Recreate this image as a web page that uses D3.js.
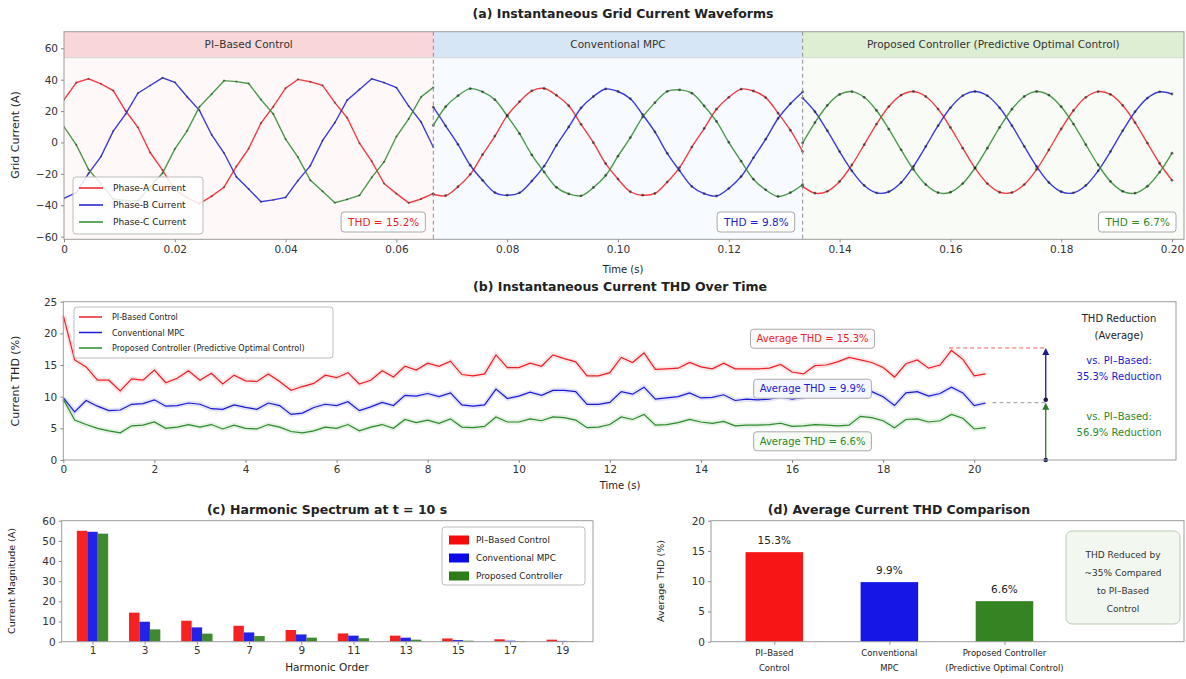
<!DOCTYPE html>
<html>
<head>
<meta charset="utf-8">
<script src="https://cdn.jsdelivr.net/npm/d3@7"></script>
<style>
  body { margin: 0; background: #fff; }
  svg { font-family: "DejaVu Sans", "Liberation Sans", Arial, sans-serif; }
</style>
</head>
<body>
<svg id="fig" width="1186" height="679"></svg>
<script>
// ---------------- DATA ----------------
// (a) waveforms: 31 samples per section, one sample every 0.2/90 s, section k starts at sample 30*k
const phaseNames = ["Phase-A Current", "Phase-B Current", "Phase-C Current"];
const sectionNames = ["PI\u2013Based Control", "Conventional MPC", "Proposed Controller (Predictive Optimal Control)"];
const sectionThd = ["THD = 15.2%", "THD = 9.8%", "THD = 6.7%"];
const waveTicks = [0, 0.02, 0.04, 0.06, 0.08, 0.10, 0.12, 0.14, 0.16, 0.18, 0.20];
const currentTicks = [-60, -40, -20, 0, 20, 40, 60];
const waveStep = 0.2 / 90;

const piA = [27.2, 38.1, 40.6, 37.4, 33.1, 20.2, 9.7, -6.4, -17.6, -30.3, -35.1, -39.0, -34.2, -28.5, -15.3, -3.9, 12.3, 22.8, 34.6, 40.2, 38.7, 36.4, 25.4, 15.8, -0.5, -12.1, -26.2, -32.6, -38.5, -36.0, -32.4];
const piB = [-35.6, -31.9, -19.7, -9.0, 7.2, 18.1, 31.4, 36.3, 41.2, 38.4, 29.1, 20.5, 4.8, -6.7, -21.9, -29.7, -37.8, -36.6, -35.0, -24.3, -14.9, 1.2, 12.6, 27.0, 33.8, 40.6, 38.1, 35.0, 23.2, 13.1, -3.0];
const piC = [10.0, -1.5, -17.3, -26.2, -36.1, -37.0, -37.1, -28.1, -19.6, -4.2, 7.4, 22.7, 30.9, 39.4, 38.8, 37.6, 27.3, 18.2, 2.2, -9.3, -24.0, -31.1, -38.4, -36.3, -33.7, -22.2, -12.4, 3.8, 15.1, 29.0, 35.1];

const mpcA = [-33.0, -33.9, -28.2, -20.3, -7.8, 4.1, 17.1, 26.0, 32.9, 34.4, 30.1, 23.4, 11.6, -0.1, -13.5, -23.3, -31.4, -33.6, -32.5, -25.2, -16.0, -2.9, 8.9, 21.2, 28.8, 34.0, 32.8, 28.6, 18.7, 7.8, -5.8];
const mpcB = [22.5, 10.6, -1.2, -14.5, -24.1, -31.9, -33.6, -32.1, -24.6, -15.1, -1.9, 9.9, 22.0, 29.3, 34.1, 32.5, 27.9, 17.8, 6.7, -6.9, -17.9, -28.0, -32.6, -34.1, -29.3, -21.7, -9.8, 2.1, 15.3, 24.7, 32.2];
const mpcC = [10.9, 22.8, 29.8, 34.3, 32.3, 27.3, 16.9, 5.6, -7.9, -18.8, -28.6, -32.8, -34.0, -28.7, -21.0, -8.7, 3.1, 16.2, 25.4, 32.6, 33.5, 31.4, 23.3, 13.4, 0.1, -11.9, -23.4, -30.2, -34.4, -32.0, -26.8];

const propA = [-28.0, -32.3, -31.1, -24.8, -14.3, -1.4, 11.7, 22.9, 30.2, 32.5, 29.3, 21.3, 9.6, -3.6, -16.3, -26.2, -31.7, -31.9, -26.8, -17.2, -4.7, 8.6, 20.4, 28.8, 32.4, 30.6, 23.6, 12.7, -0.4, -13.4, -24.1];
const propB = [28.3, 19.6, 7.5, -5.8, -18.1, -27.4, -32.1, -31.4, -25.5, -15.3, -2.5, 10.7, 22.1, 29.8, 32.5, 29.8, 22.1, 10.7, -2.5, -15.3, -25.5, -31.4, -32.1, -27.4, -18.1, -5.8, 7.5, 19.6, 28.3, 32.3, 30.9];
const propC = [-0.3, 12.7, 23.6, 30.6, 32.4, 28.8, 20.4, 8.5, -4.7, -17.2, -26.8, -32.0, -31.7, -26.2, -16.2, -3.6, 9.6, 21.2, 29.3, 32.5, 30.2, 22.8, 11.7, -1.4, -14.3, -24.8, -31.1, -32.3, -27.9, -18.9, -6.8];

// (b) THD over time, one value every 0.25 s from 0 s
const controllerNames = ["PI-Based Control", "Conventional MPC", "Proposed Controller (Predictive Optimal Control)"];
const thdStep = 0.25;
const thdPI = [22.8, 15.8, 14.7, 12.6, 12.6, 10.9, 12.8, 12.6, 14.2, 12.2,
  12.9, 14.1, 12.6, 13.7, 12.0, 13.4, 12.5, 12.4, 13.6, 12.4,
  11.0, 11.6, 12.1, 13.4, 13.0, 13.8, 12.0, 12.6, 14.1, 13.1,
  14.8, 14.2, 15.3, 14.8, 15.6, 13.5, 13.3, 13.6, 16.6, 14.6,
  14.6, 15.3, 14.8, 16.6, 16.0, 15.5, 13.3, 13.3, 13.8, 16.2,
  15.4, 16.9, 14.3, 14.4, 14.5, 15.4, 14.7, 14.4, 15.3, 14.4,
  14.4, 14.4, 14.5, 15.1, 13.9, 13.6, 14.9, 15.0, 15.5, 16.2,
  15.8, 15.4, 14.6, 13.1, 15.2, 15.8, 14.5, 15.0, 17.3, 15.9,
  13.3, 13.6];
const thdMPC = [9.8, 7.6, 9.4, 8.5, 7.8, 7.9, 8.8, 8.9, 9.5, 8.5,
  8.6, 9.0, 8.8, 8.1, 8.0, 8.7, 8.3, 8.0, 9.0, 8.6,
  7.2, 7.4, 8.3, 8.8, 8.6, 9.2, 7.8, 8.4, 9.1, 8.6,
  10.2, 10.1, 10.5, 10.0, 10.6, 8.7, 8.5, 8.7, 11.2, 9.7,
  10.1, 10.7, 10.2, 11.0, 11.0, 10.8, 8.8, 8.8, 9.1, 10.8,
  10.4, 11.5, 9.6, 9.8, 10.0, 10.6, 9.8, 9.9, 10.3, 9.4,
  9.6, 9.5, 9.6, 10.0, 9.6, 9.9, 11.0, 10.9, 11.2, 11.6,
  11.5, 10.8, 10.0, 8.6, 10.6, 10.8, 10.1, 10.5, 11.5, 10.6,
  8.6, 9.0];
const thdProp = [9.6, 6.3, 5.6, 5.0, 4.6, 4.3, 5.4, 5.5, 6.0, 5.0,
  5.2, 5.6, 5.2, 5.6, 4.9, 5.5, 5.0, 4.9, 5.6, 5.2,
  4.5, 4.3, 4.6, 5.2, 5.0, 5.6, 4.6, 5.2, 5.6, 5.0,
  6.4, 5.9, 6.3, 5.8, 6.5, 5.2, 5.1, 5.3, 6.8, 6.0,
  6.0, 6.5, 6.2, 6.8, 6.7, 6.3, 5.1, 5.2, 5.6, 6.8,
  6.4, 7.2, 5.5, 5.6, 5.9, 6.4, 6.0, 5.8, 6.1, 5.4,
  5.5, 5.5, 5.6, 5.8, 5.3, 5.4, 5.6, 5.5, 5.4, 5.5,
  6.9, 6.7, 6.2, 5.1, 6.4, 6.5, 6.0, 6.2, 7.2, 6.6,
  4.9, 5.1];
const thdTimeTicks = [0, 2, 4, 6, 8, 10, 12, 14, 16, 18, 20];
const thdTicks = [0, 5, 10, 15, 20, 25];
const avgThdText = ["Average THD = 15.3%", "Average THD = 9.9%", "Average THD = 6.6%"];
const reductionLevels = [17.7, 9.05, 0];   // PI level, MPC level, axis floor
const reductionText = ["vs. PI\u2013Based:", "35.3% Reduction", "vs. PI\u2013Based:", "56.9% Reduction"];

// (c) harmonic spectrum at t = 10 s
const harmonicOrders = [1, 3, 5, 7, 9, 11, 13, 15, 17, 19];
const harmPI = [55.0, 14.4, 10.4, 7.9, 5.8, 4.1, 3.0, 1.6, 1.2, 1.0];
const harmMPC = [54.5, 9.9, 7.1, 4.6, 3.6, 3.0, 2.0, 0.8, 0.5, 0.4];
const harmProp = [53.6, 6.1, 4.0, 2.8, 2.0, 1.7, 1.0, 0.5, 0.3, 0.2];
const harmTicks = [0, 10, 20, 30, 40, 50, 60];
const harmLegend = ["PI\u2013Based Control", "Conventional MPC", "Proposed Controller"];

// (d) average THD
const avgCategories = [["PI\u2013Based", "Control"], ["Conventional", "MPC"], ["Proposed Controller", "(Predictive Optimal Control)"]];
const avgValues = [14.8, 9.85, 6.7];
const avgLabels = ["15.3%", "9.9%", "6.6%"];
const avgTicks = [0, 5, 10, 15, 20];
const noteLines = ["THD Reduced by", "~35% Compared", "to PI\u2013Based", "Control"];

// ---------------- STYLE ----------------
const lineColors = ["#ec1e26", "#1a1ad2", "#2b8a2b"];
const barColors = ["#f50a0a", "#0a0ae6", "#2a7d17"];
const secHead = ["#f9d6d7", "#d7e6f6", "#ddeed3"];
const secTint = ["#fff8f8", "#f7faff", "#f9fcf6"];

const svg = d3.select("#fig");
svg.append("rect").attr("width", 1186).attr("height", 679).attr("fill", "#fff");

function frame(x0, y0, x1, y1) {
  svg.append("rect").attr("x", x0).attr("y", y0).attr("width", x1 - x0).attr("height", y1 - y0)
    .attr("fill", "none").attr("stroke", "#9c9c9c").attr("stroke-width", 1);
}
function styleAxis(g, size) {
  g.select(".domain").remove();
  g.selectAll(".tick line").attr("stroke", "#8a8a8a");
  g.selectAll(".tick text").attr("fill", "#333").style("font-size", (size || 10) + "px")
    .style("font-family", "DejaVu Sans, sans-serif");
}
function title(x, y, txt) {
  svg.append("text").attr("x", x).attr("y", y).attr("text-anchor", "middle")
    .style("font-size", "12.5px").style("font-weight", "bold").attr("fill", "#222").text(txt);
}
function label(x, y, txt, rot, size) {
  svg.append("text").attr("transform", "translate(" + x + "," + y + ")" + (rot ? " rotate(-90)" : ""))
    .attr("text-anchor", "middle").style("font-size", (size || 10.5) + "px").attr("fill", "#222").text(txt);
}
function boxedText(g, x, y, txt, color, fill, size, anchor) {
  const t = g.append("text").attr("x", x).attr("y", y).attr("text-anchor", anchor || "middle")
    .style("font-size", (size || 10) + "px").attr("fill", color).text(txt);
  const b = t.node().getBBox();
  g.insert("rect", function () { return t.node(); })
    .attr("x", b.x - 6).attr("y", b.y - 4).attr("width", b.width + 12).attr("height", b.height + 8)
    .attr("rx", 3).attr("fill", fill).attr("stroke", "#a8a8a8").attr("stroke-width", 1);
}

// ---------------- (a) WAVEFORMS ----------------
const aBox = {left: 64, right: 1184, top: 31.7, bottom: 239.3};
const xA = d3.scaleLinear().domain([0, 0.2]).range([64, 1172]);
const yA = d3.scaleLinear().domain([-61.7, 70.6]).range([aBox.bottom, aBox.top]);
const secEdges = [0, 30 * waveStep, 60 * waveStep, xA.invert(aBox.right)];

svg.append("clipPath").attr("id", "clipA").append("rect")
  .attr("x", aBox.left).attr("y", aBox.top).attr("width", aBox.right - aBox.left).attr("height", aBox.bottom - aBox.top);
const gA = svg.append("g").attr("clip-path", "url(#clipA)");

sectionNames.forEach((name, s) => {
  const x0 = xA(secEdges[s]), x1 = xA(secEdges[s + 1]);
  gA.append("rect").attr("x", x0).attr("y", yA(70.6)).attr("width", x1 - x0)
    .attr("height", yA(-61.7) - yA(70.6)).attr("fill", secTint[s]);
  gA.append("rect").attr("x", x0).attr("y", yA(70.6)).attr("width", x1 - x0)
    .attr("height", yA(54) - yA(70.6)).attr("fill", secHead[s]);
  gA.append("line").attr("x1", x0).attr("x2", x1).attr("y1", yA(54)).attr("y2", yA(54))
    .attr("stroke", "#d0d0d0").attr("stroke-width", 0.8);
  gA.append("text").attr("x", (x0 + x1) / 2).attr("y", (yA(70.6) + yA(54)) / 2 + 3.5)
    .attr("text-anchor", "middle").style("font-size", "10.5px").attr("fill", "#333").text(name);
});

const waves = [[piA, piB, piC], [mpcA, mpcB, mpcC], [propA, propB, propC]];
waves.forEach((set, s) => {
  set.forEach((vals, p) => {
    const pts = vals.map((v, k) => [xA((30 * s + k) * waveStep), yA(v)]);
    gA.append("path")
      .attr("d", d3.line().curve(s === 0 ? d3.curveLinear : d3.curveCatmullRom)(pts))
      .attr("fill", "none").attr("stroke", lineColors[p]).attr("stroke-width", 1.4).attr("stroke-opacity", 0.85);
  });
  set.forEach((vals) => {
    gA.append("g").selectAll("circle").data(vals).join("circle")
      .attr("cx", (v, k) => xA((30 * s + k) * waveStep))
      .attr("cy", v => yA(v))
      .attr("r", s === 0 ? 1.1 : 1.4)
      .attr("fill", "#1e1e1e").attr("fill-opacity", s === 0 ? 0.45 : 0.6);
  });
});

[1, 2].forEach(s => {
  gA.append("line").attr("x1", xA(secEdges[s])).attr("x2", xA(secEdges[s]))
    .attr("y1", aBox.top).attr("y2", aBox.bottom)
    .attr("stroke", "#8c8c8c").attr("stroke-width", 1).attr("stroke-dasharray", "4,3");
});

sectionThd.forEach((txt, s) => {
  boxedText(svg, xA(secEdges[s + 1]) - 14, 226, txt, lineColors[s], "#fff", 10.5, "end");
});

// legend (a)
const legA = svg.append("g");
legA.append("rect").attr("x", 73).attr("y", 177).attr("width", 130).attr("height", 57).attr("rx", 3)
  .attr("fill", "#fff").attr("fill-opacity", 0.85).attr("stroke", "#bdbdbd");
phaseNames.forEach((n, i) => {
  const y = 188 + i * 17;
  legA.append("line").attr("x1", 79).attr("x2", 103).attr("y1", y).attr("y2", y)
    .attr("stroke", lineColors[i]).attr("stroke-width", 1.5);
  legA.append("text").attr("x", 113).attr("y", y + 3.3).style("font-size", "9px").attr("fill", "#222").text(n);
});

frame(aBox.left, aBox.top, aBox.right, aBox.bottom);
styleAxis(svg.append("g").attr("transform", "translate(0," + aBox.bottom + ")")
  .call(d3.axisBottom(xA).tickValues(waveTicks).tickSize(3).tickPadding(3)
    .tickFormat(d => d === 0 ? "0" : d.toFixed(2))), 10.5);
styleAxis(svg.append("g").attr("transform", "translate(" + aBox.left + ",0)")
  .call(d3.axisLeft(yA).tickValues(currentTicks).tickSize(3).tickPadding(3)), 10.5);
title(623, 18, "(a) Instantaneous Grid Current Waveforms");
label(623, 273, "Time (s)", false, 10);
label(19, 135, "Grid Current (A)", true, 11);

// ---------------- (b) THD OVER TIME ----------------
const bBox = {left: 63.3, right: 1176, top: 301.7, bottom: 460};
const xB = d3.scaleLinear().domain([0, 24.43]).range([bBox.left, bBox.right]);
const yB = d3.scaleLinear().domain([0, 25]).range([bBox.bottom, bBox.top]);
const gB = svg.append("g");

[thdPI, thdMPC, thdProp].forEach((vals, i) => {
  const line = d3.line().x((v, k) => xB(k * thdStep)).y(v => yB(v));
  gB.append("path").attr("d", line(vals)).attr("fill", "none")
    .attr("stroke", lineColors[i]).attr("stroke-width", 5).attr("stroke-opacity", 0.12);
  gB.append("path").attr("d", line(vals)).attr("fill", "none")
    .attr("stroke", lineColors[i]).attr("stroke-width", 1.2);
});

// average labels
boxedText(gB, xB(16.45), yB(18.6), avgThdText[0], lineColors[0], "#fffafa", 10);
boxedText(gB, xB(16.45), yB(10.7), avgThdText[1], lineColors[1], "#f5f7ff", 10);
boxedText(gB, xB(16.45), yB(2.4), avgThdText[2], lineColors[2], "#f7fbf5", 10);

// reduction guides
const armX = 21.57;
gB.append("line").attr("x1", xB(19.45)).attr("x2", xB(armX)).attr("y1", yB(reductionLevels[0])).attr("y2", yB(reductionLevels[0]))
  .attr("stroke", lineColors[0]).attr("stroke-opacity", 0.7).attr("stroke-dasharray", "4,3");
gB.append("line").attr("x1", xB(20.4)).attr("x2", xB(armX)).attr("y1", yB(reductionLevels[1])).attr("y2", yB(reductionLevels[1]))
  .attr("stroke", "#999").attr("stroke-dasharray", "4,3");
const arrowCols = ["#1c1c96", "#2b7a2b"];
[0, 1].forEach(i => {
  const yTop = yB(reductionLevels[i]), yBot = yB(reductionLevels[i + 1]) - (i === 0 ? 3 : 0);
  const x = xB(armX);
  gB.append("line").attr("x1", x).attr("x2", x).attr("y1", yTop + 2).attr("y2", yBot)
    .attr("stroke", arrowCols[i]).attr("stroke-width", 1.3);
  gB.append("path").attr("d", "M" + (x - 3.5) + "," + (yTop + 7) + "L" + x + "," + yTop + "L" + (x + 3.5) + "," + (yTop + 7) + "Z")
    .attr("fill", arrowCols[i]);
  gB.append("circle").attr("cx", x).attr("cy", yBot).attr("r", 2.3).attr("fill", "#1c1c50");
});
const noteB = svg.append("g").attr("text-anchor", "middle").style("font-size", "10px");
noteB.append("text").attr("x", 1119).attr("y", 322).attr("fill", "#222").text("THD Reduction");
noteB.append("text").attr("x", 1119).attr("y", 339).attr("fill", "#222").text("(Average)");
noteB.append("text").attr("x", 1119).attr("y", 364).attr("fill", lineColors[1]).text(reductionText[0]);
noteB.append("text").attr("x", 1119).attr("y", 380).attr("fill", lineColors[1]).text(reductionText[1]);
noteB.append("text").attr("x", 1119).attr("y", 420).attr("fill", lineColors[2]).text(reductionText[2]);
noteB.append("text").attr("x", 1119).attr("y", 436).attr("fill", lineColors[2]).text(reductionText[3]);

// legend (b)
const legB = svg.append("g");
legB.append("rect").attr("x", 74).attr("y", 307).attr("width", 259).attr("height", 51).attr("rx", 3)
  .attr("fill", "#fff").attr("fill-opacity", 0.9).attr("stroke", "#bdbdbd");
controllerNames.forEach((n, i) => {
  const y = 317 + i * 15.5;
  legB.append("line").attr("x1", 79).attr("x2", 102).attr("y1", y).attr("y2", y)
    .attr("stroke", lineColors[i]).attr("stroke-width", 1.5);
  legB.append("text").attr("x", 112).attr("y", y + 3).style("font-size", "8px").attr("fill", "#222").text(n);
});

frame(bBox.left, bBox.top, bBox.right, bBox.bottom);
styleAxis(svg.append("g").attr("transform", "translate(0," + bBox.bottom + ")")
  .call(d3.axisBottom(xB).tickValues(thdTimeTicks).tickSize(3).tickPadding(3)), 10.5);
styleAxis(svg.append("g").attr("transform", "translate(" + bBox.left + ",0)")
  .call(d3.axisLeft(yB).tickValues(thdTicks).tickSize(3).tickPadding(3)), 10.5);
title(620, 291, "(b) Instantaneous Current THD Over Time");
label(620, 489, "Time (s)", false, 10);
label(19, 381, "Current THD (%)", true, 11);

// ---------------- (c) HARMONIC SPECTRUM ----------------
const cBox = {left: 61.7, right: 593, top: 520.7, bottom: 641.7};
const xC = d3.scaleLinear().domain([-0.18, 20.18]).range([cBox.left, cBox.right]);
const yC = d3.scaleLinear().domain([0, 60]).range([cBox.bottom, cBox.top]);
const barW = 0.4;
[harmPI, harmMPC, harmProp].forEach((vals, i) => {
  svg.append("g").selectAll("rect").data(vals).join("rect")
    .attr("x", (v, k) => xC(harmonicOrders[k] + (i - 1) * barW - barW / 2))
    .attr("y", v => yC(v))
    .attr("width", xC(barW) - xC(0))
    .attr("height", v => yC(0) - yC(v))
    .attr("fill", barColors[i]).attr("fill-opacity", 0.9);
});
const legC = svg.append("g");
legC.append("rect").attr("x", 442).attr("y", 527).attr("width", 143).attr("height", 58).attr("rx", 3)
  .attr("fill", "#fff").attr("fill-opacity", 0.9).attr("stroke", "#bdbdbd");
harmLegend.forEach((n, i) => {
  const y = 540 + i * 18;
  legC.append("rect").attr("x", 449).attr("y", y - 4.5).attr("width", 20).attr("height", 9).attr("fill", barColors[i]);
  legC.append("text").attr("x", 476).attr("y", y + 3.3).style("font-size", "8.8px").attr("fill", "#222").text(n);
});
frame(cBox.left, cBox.top, cBox.right, cBox.bottom);
styleAxis(svg.append("g").attr("transform", "translate(0," + cBox.bottom + ")")
  .call(d3.axisBottom(xC).tickValues(harmonicOrders).tickSize(3).tickPadding(2)), 10.5);
styleAxis(svg.append("g").attr("transform", "translate(" + cBox.left + ",0)")
  .call(d3.axisLeft(yC).tickValues(harmTicks).tickSize(3).tickPadding(3)), 10.5);
title(327, 514, "(c) Harmonic Spectrum at t = 10 s");
label(327, 671, "Harmonic Order", false, 10.5);
label(15, 581, "Current Magnitude (A)", true, 9.5);

// ---------------- (d) AVERAGE THD ----------------
const dBox = {left: 711, right: 1184, top: 520.7, bottom: 641.7};
const xD = d3.scaleLinear().domain([-0.55, 3.56]).range([dBox.left, dBox.right]);
const yD = d3.scaleLinear().domain([0, 20]).range([dBox.bottom, dBox.top]);
svg.append("g").selectAll("rect").data(avgValues).join("rect")
  .attr("x", (v, i) => xD(i - 0.25)).attr("y", v => yD(v))
  .attr("width", xD(0.5) - xD(0)).attr("height", v => yD(0) - yD(v))
  .attr("fill", (v, i) => barColors[i]).attr("fill-opacity", 0.95);
svg.append("g").selectAll("text").data(avgValues).join("text")
  .attr("x", (v, i) => xD(i)).attr("y", v => yD(v) - 8)
  .attr("text-anchor", "middle").style("font-size", "10.5px").attr("fill", "#222")
  .text((v, i) => avgLabels[i]);
avgCategories.forEach((lines, i) => {
  lines.forEach((t, j) => {
    svg.append("text").attr("x", xD(i)).attr("y", 656 + j * 15).attr("text-anchor", "middle")
      .style("font-size", "8.5px").attr("fill", "#222").text(t);
  });
});
svg.append("rect").attr("x", 1066).attr("y", 531).attr("width", 114).attr("height", 93).attr("rx", 6)
  .attr("fill", "#f2f8ef").attr("stroke", "#b9cdb3");
noteLines.forEach((t, j) => {
  svg.append("text").attr("x", 1123).attr("y", 558 + j * 18).attr("text-anchor", "middle")
    .style("font-size", "9px").attr("fill", "#333").text(t);
});
frame(dBox.left, dBox.top, dBox.right, dBox.bottom);
const axD = svg.append("g").attr("transform", "translate(0," + dBox.bottom + ")")
  .call(d3.axisBottom(xD).tickValues([0, 1, 2]).tickSize(3).tickFormat(""));
styleAxis(axD);
styleAxis(svg.append("g").attr("transform", "translate(" + dBox.left + ",0)")
  .call(d3.axisLeft(yD).tickValues(avgTicks).tickSize(3).tickPadding(3)), 10.5);
title(899, 514, "(d) Average Current THD Comparison");
label(664, 581, "Average THD (%)", true, 9.5);
</script>
</body>
</html>
